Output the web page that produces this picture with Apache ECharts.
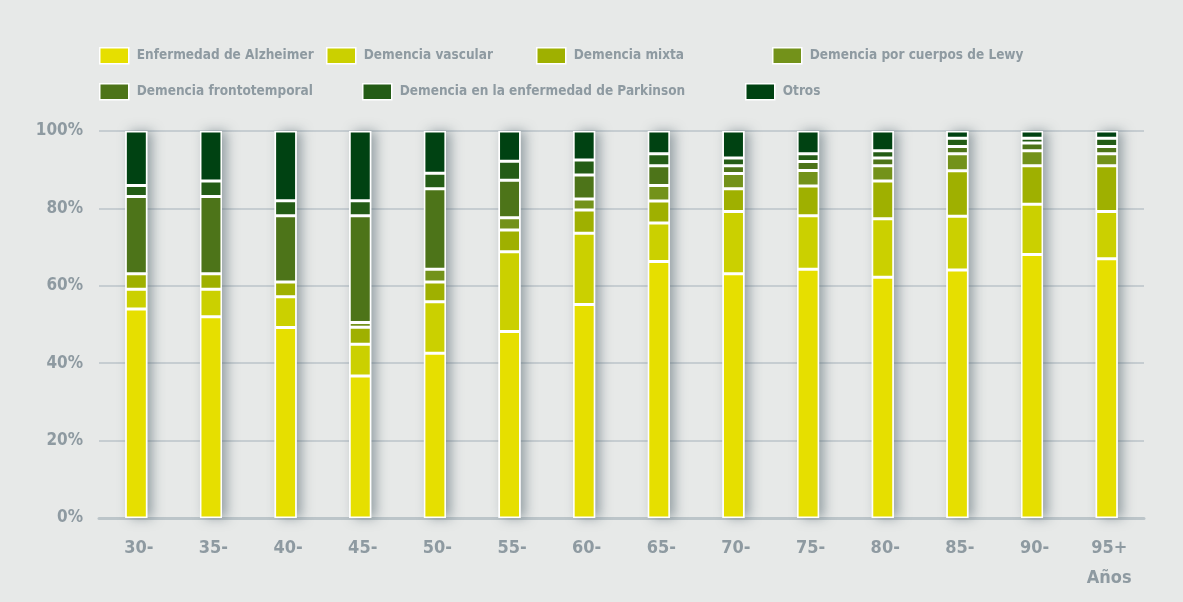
<!DOCTYPE html>
<html>
<head>
<meta charset="utf-8">
<script src="https://cdn.jsdelivr.net/npm/echarts@6/dist/echarts.min.js"></script>
<style>
  html, body { margin: 0; padding: 0; background: #e7e9e8; }
  #chart { width: 1183px; height: 602px; }
</style>
</head>
<body>
<div id="chart"></div>
<script>
// Age groups (x axis)
const categories = ['30-', '35-', '40-', '45-', '50-', '55-', '60-', '65-', '70-', '75-', '80-', '85-', '90-', '95+'];
const yTicks = [0, 20, 40, 60, 80, 100];

// Share of each dementia type per age group (%)
const alzheimer   = [54.0, 52.0, 49.2, 36.7, 42.6, 48.2, 55.2, 66.3, 63.1, 64.3, 62.2, 64.1, 68.1, 67.0];
const vascular    = [5.1, 7.1, 8.0, 8.2, 13.3, 20.6, 18.4, 9.9, 16.1, 13.8, 15.1, 13.9, 13.0, 12.2];
const mixta       = [4.0, 4.0, 3.8, 4.4, 5.1, 5.6, 6.0, 5.7, 5.9, 7.7, 9.8, 11.7, 9.9, 11.8];
const lewy        = [0.0, 0.0, 0.0, 1.2, 3.3, 3.2, 2.8, 4.0, 3.9, 4.0, 3.9, 4.4, 3.9, 3.1];
const fronto      = [20.0, 20.0, 17.1, 27.6, 20.8, 9.7, 6.2, 5.1, 2.0, 2.3, 2.0, 1.9, 2.0, 1.9];
const parkinson   = [2.8, 4.0, 3.9, 3.9, 4.0, 4.9, 3.9, 3.1, 2.0, 2.0, 1.9, 2.1, 1.2, 2.1];
const otros       = [14.1, 12.9, 18.0, 18.0, 10.9, 7.8, 7.5, 5.9, 7.0, 5.9, 5.1, 1.9, 1.9, 1.9];

const seriesDefs = [
  { name: 'Enfermedad de Alzheimer', data: alzheimer, color: '#e6df00' },
  { name: 'Demencia vascular', data: vascular, color: '#cbd000' },
  { name: 'Demencia mixta', data: mixta, color: '#9fb000' },
  { name: 'Demencia por cuerpos de Lewy', data: lewy, color: '#73921a' },
  { name: 'Demencia frontotemporal', data: fronto, color: '#4d7419' },
  { name: 'Demencia en la enfermedad de Parkinson', data: parkinson, color: '#245c16' },
  { name: 'Otros', data: otros, color: '#004212' }
];

// Legend placement (two rows, free positions)
const legendPos = [
  [99, 47], [326, 47], [536, 47], [772, 47],
  [99, 83], [362, 83], [745, 83]
];

const FONT = '"Liberation Sans Narrow", "DejaVu Sans Condensed", "Roboto", sans-serif';
const TEXT_COLOR = '#8e9aa1';

const chart = echarts.init(document.getElementById('chart'));

const legends = seriesDefs.map((s, i) => ({
  data: [s.name],
  left: legendPos[i][0],
  top: legendPos[i][1],
  padding: 0,
  itemWidth: 29,
  itemHeight: 16,
  icon: 'rect',
  selectedMode: false,
  itemStyle: { borderColor: '#ffffff', borderWidth: 1.5 },
  textStyle: { color: TEXT_COLOR, fontFamily: FONT, fontSize: 13.5, fontWeight: 'bold', padding: [1, 0, 0, 3] }
}));

const stacked = seriesDefs.map(s => ({
  name: s.name,
  type: 'bar',
  stack: 'total',
  barWidth: 22,
  data: s.data,
  z: 3,
  itemStyle: { color: s.color, borderColor: '#ffffff', borderWidth: 1.5 },
  emphasis: { disabled: true }
}));

// full-height backing column that casts the soft shadow beside each bar
const backing = {
  name: 'backing',
  type: 'bar',
  barWidth: 22,
  barGap: '-100%',
  silent: true,
  z: 1,
  data: categories.map(() => 100),
  itemStyle: {
    color: '#ffffff',
    shadowColor: 'rgba(70, 90, 100, 0.5)',
    shadowBlur: 12,
    shadowOffsetX: 5,
    shadowOffsetY: 0
  },
  emphasis: { disabled: true }
};

chart.setOption({
  backgroundColor: '#e7e9e8',
  animation: false,
  legend: legends,
  grid: { left: 99, right: 39, top: 131, bottom: 84, containLabel: false },
  xAxis: {
    type: 'category',
    data: categories,
    axisLine: { lineStyle: { color: '#bcc5c9', width: 3 } },
    axisTick: { show: false },
    axisLabel: {
      margin: 15,
      color: TEXT_COLOR,
      fontFamily: FONT,
      fontSize: 18,
      fontWeight: 'bold',
      lineHeight: 30,
      padding: [0, 0, 0, 5],
      formatter: v => v === '95+' ? '95+\nAños' : v
    }
  },
  yAxis: {
    type: 'value',
    min: yTicks[0],
    max: yTicks[yTicks.length - 1],
    interval: 20,
    axisLine: { show: false },
    axisTick: { show: false },
    splitLine: { lineStyle: { color: '#c6cdd1', width: 2 } },
    axisLabel: {
      margin: 16,
      color: TEXT_COLOR,
      fontFamily: FONT,
      fontSize: 17,
      fontWeight: 'bold',
      formatter: '{value}%'
    }
  },
  series: [...stacked, backing]
});
</script>
</body>
</html>
